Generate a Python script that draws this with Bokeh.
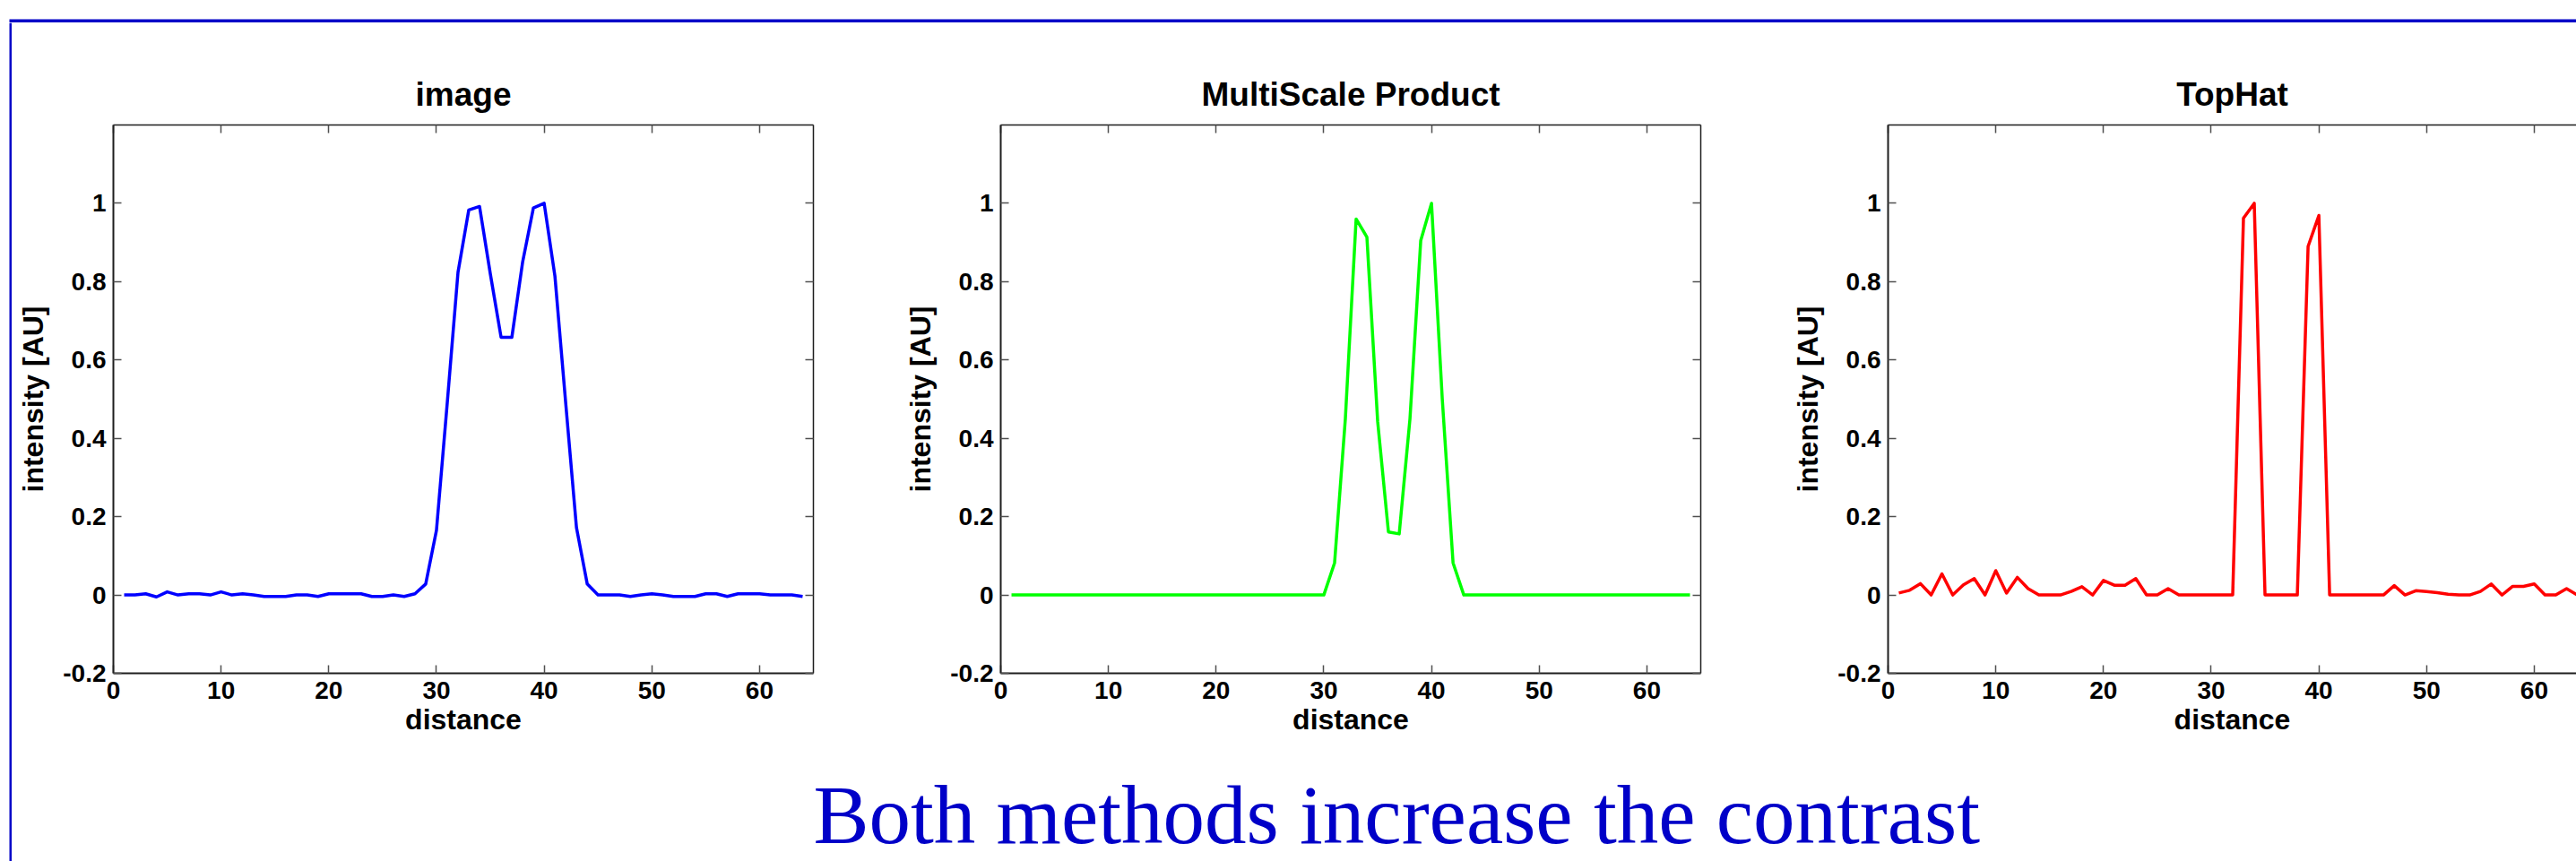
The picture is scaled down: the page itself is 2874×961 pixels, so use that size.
from bokeh.plotting import figure
from bokeh.models import Range1d, LinearAxis, FixedTicker
from bokeh.layouts import row, column
from bokeh.embed import file_html
from bokeh.resources import INLINE
from bokeh.core.properties import value

# ---------------- data ----------------
DISTANCE = list(range(1, 65))

IMAGE = [0, 0, 0.003, -0.005, 0.008, 0, 0.003, 0.003, 0, 0.008,
         0, 0.003, 0, -0.004, -0.004, -0.004, 0, 0, -0.004, 0.003,
         0.003, 0.003, 0.003, -0.004, -0.004, 0, -0.004, 0.003, 0.028, 0.165,
         0.49, 0.824, 0.983, 0.992, 0.82, 0.658, 0.658, 0.85, 0.988, 1.0,
         0.814, 0.49, 0.172, 0.028, 0, 0, 0, -0.004, 0, 0.003,
         0, -0.004, -0.004, -0.004, 0.003, 0.003, -0.004, 0.003, 0.003, 0.003,
         0, 0, 0, -0.004]

MULTISCALE = [0, 0, 0, 0, 0, 0, 0, 0, 0, 0,
              0, 0, 0, 0, 0, 0, 0, 0, 0, 0,
              0, 0, 0, 0, 0, 0, 0, 0, 0, 0,
              0.082, 0.45, 0.96, 0.914, 0.443, 0.161, 0.156, 0.45, 0.905, 1.0,
              0.5, 0.082, 0, 0, 0, 0, 0, 0, 0, 0,
              0, 0, 0, 0, 0, 0, 0, 0, 0, 0,
              0, 0, 0, 0]

TOPHAT = [0.005, 0.012, 0.029, 0, 0.054, 0, 0.026, 0.042, 0, 0.062,
          0.005, 0.045, 0.016, 0, 0, 0, 0.009, 0.021, 0, 0.037,
          0.025, 0.025, 0.042, 0, 0, 0.016, 0, 0, 0, 0,
          0, 0, 0.962, 1.0, 0, 0, 0, 0, 0.89, 0.969,
          0, 0, 0, 0, 0, 0, 0.024, 0, 0.011, 0.009,
          0.006, 0.002, 0, 0, 0.009, 0.028, 0, 0.022, 0.022, 0.028,
          0, 0, 0.016, 0]

TITLES = ["image", "MultiScale Product", "TopHat"]
COLORS = ["#0000FF", "#00FF00", "#FF0000"]
X_LABEL = "distance"
Y_LABEL = "intensity [AU]"
X_TICKS = [0, 10, 20, 30, 40, 50, 60]
Y_TICKS = [-0.2, 0, 0.2, 0.4, 0.6, 0.8, 1.0]
Y_TICK_LABELS = ["-0.2", "0", "0.2", "0.4", "0.6", "0.8", "1"]
CAPTION = "Both methods increase the contrast"

# ---------------- styling ----------------
FRAME_BLUE = "#0000C8"
FONT = "Liberation Sans"
TICK_SIZE = "28px"
LABEL_SIZE = "32px"
TITLE_SIZE = "37px"
AXIS_COLOR = "#1e1e1e"
TICK_COLOR = "#505050"


def style_axis(ax, labels=True):
    ax.axis_line_color = AXIS_COLOR
    ax.axis_line_width = 2
    ax.major_tick_line_color = TICK_COLOR
    ax.major_tick_line_width = 1.5
    ax.major_tick_in = 9
    ax.major_tick_out = 0
    ax.minor_tick_line_color = None
    if labels:
        ax.major_label_text_font = FONT
        ax.major_label_text_font_style = "bold"
        ax.major_label_text_font_size = TICK_SIZE
        ax.major_label_text_color = "black"
        ax.axis_label_text_font = FONT
        ax.axis_label_text_font_style = "bold"
        ax.axis_label_text_font_size = LABEL_SIZE
        ax.axis_label_text_color = "black"
    else:
        ax.major_label_text_font_size = "1px"
        ax.major_label_text_color = None
        ax.major_label_standoff = 0


def make_panel(title, ys, color, frame_w, x_end, with_right, border_right):
    p = figure(frame_width=frame_w, frame_height=612,
               x_range=Range1d(0, x_end), y_range=Range1d(-0.2, 1.2),
               toolbar_location=None, output_backend="svg",
               min_border_left=113, min_border_right=border_right,
               min_border_top=114, min_border_bottom=99,
               outline_line_color=None,
               background_fill_color="white", border_fill_color="white")
    p.xgrid.visible = False
    p.ygrid.visible = False

    p.title.text = title
    p.title.align = "center"
    p.title.text_font = FONT
    p.title.text_font_style = "bold"
    p.title.text_font_size = TITLE_SIZE
    p.title.text_color = "black"
    p.title.standoff = 28

    xa = p.xaxis[0]
    xa.ticker = FixedTicker(ticks=X_TICKS)
    xa.axis_label = X_LABEL
    style_axis(xa)
    xa.major_label_standoff = 9
    xa.axis_label_standoff = 2

    ya = p.yaxis[0]
    ya.ticker = FixedTicker(ticks=Y_TICKS)
    ya.major_label_overrides = {t: l for t, l in zip(Y_TICKS, Y_TICK_LABELS)}
    ya.axis_label = Y_LABEL
    style_axis(ya)
    ya.major_label_standoff = 8
    ya.axis_label_standoff = 12

    top = LinearAxis(ticker=FixedTicker(ticks=X_TICKS))
    style_axis(top, labels=False)
    top.axis_line_width = 1.5
    p.add_layout(top, "above")

    if with_right:
        right = LinearAxis(ticker=FixedTicker(ticks=Y_TICKS))
        style_axis(right, labels=False)
        right.axis_line_width = 1.5
        p.add_layout(right, "right")

    p.line(DISTANCE, ys, line_color=color, line_width=3.5, line_join="round")
    return p


p1 = make_panel(TITLES[0], IMAGE, COLORS[0], 781, 65, True, 96)
p2 = make_panel(TITLES[1], MULTISCALE, COLORS[1], 781, 65, True, 96)
p3 = make_panel(TITLES[2], TOPHAT, COLORS[2], 768, 65 * 768 / 781, False, 0)


def strip(w, h):
    s = figure(width=w, height=h, title=None, toolbar_location=None,
               output_backend="svg", min_border=0,
               x_axis_type=None, y_axis_type=None,
               x_range=Range1d(0, w), y_range=Range1d(0, h),
               outline_line_color=None,
               background_fill_color="white", border_fill_color="white")
    s.grid.visible = False
    return s


# slide frame: blue rule across the top, blue rule down the left side
top_strip = strip(2874, 25)
top_strip.quad(left=[10], right=[2874], bottom=[0], top=[4],
               fill_color=FRAME_BLUE, line_color=None)
left_strip = strip(13, 936)
left_strip.quad(left=[10], right=[13], bottom=[0], top=[936],
                fill_color=FRAME_BLUE, line_color=None)

cap = strip(2861, 111)
cap.text(x=[894], y=[104], text=[CAPTION], text_font=value("Liberation Serif"),
         text_font_size="93px", text_color=FRAME_BLUE,
         text_align="left", text_baseline="top")

content = column(row(p1, p2, p3), cap)
layout = column(top_strip, row(left_strip, content))

open("out.html", "w").write(file_html(layout, INLINE))
